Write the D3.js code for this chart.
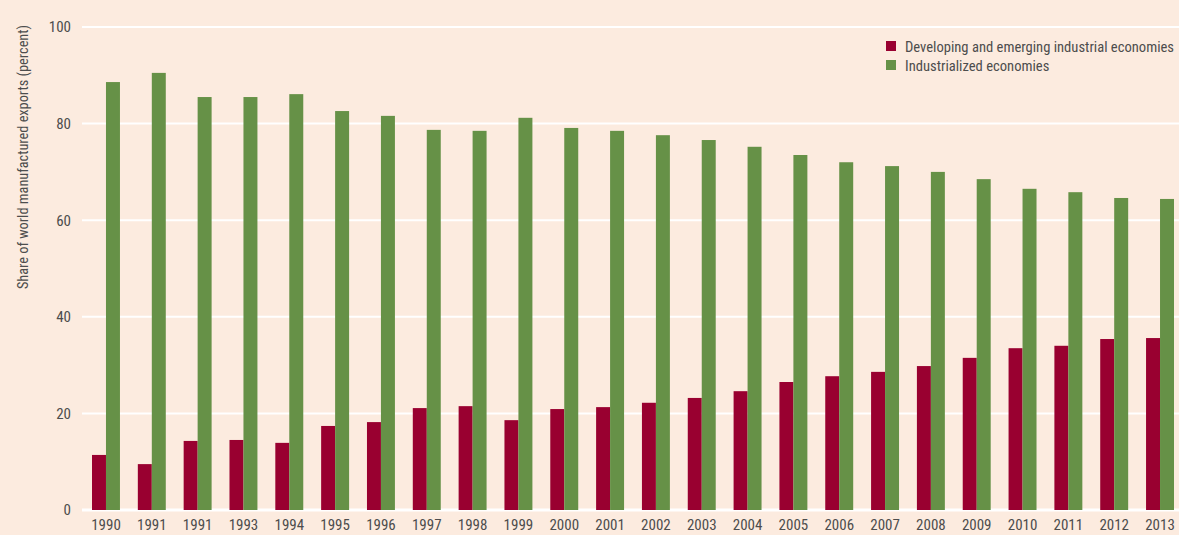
<!DOCTYPE html>
<html>
<head>
<meta charset="utf-8">
<script src="https://cdn.jsdelivr.net/npm/d3@7"></script>
<style>
  html, body { margin: 0; padding: 0; background: #fcebdf; }
  svg { display: block; }
  text { font-family: "Liberation Sans Narrow", "Roboto Condensed", "DejaVu Sans Condensed", sans-serif; }
</style>
</head>
<body>
<svg id="chart" width="1179" height="535"></svg>
<script>
const years = ["1990","1991","1991","1993","1994","1995","1996","1997","1998","1999","2000","2001","2002","2003","2004","2005","2006","2007","2008","2009","2010","2011","2012","2013"];
const developing = [11.4, 9.5, 14.3, 14.5, 13.9, 17.4, 18.2, 21.1, 21.5, 18.6, 20.9, 21.3, 22.2, 23.2, 24.6, 26.5, 27.7, 28.6, 29.8, 31.5, 33.5, 34.0, 35.4, 35.6];
const industrialized = [88.6, 90.5, 85.5, 85.5, 86.1, 82.6, 81.6, 78.7, 78.5, 81.2, 79.1, 78.5, 77.6, 76.6, 75.2, 73.5, 72.0, 71.2, 70.0, 68.5, 66.5, 65.8, 64.6, 64.4];
const seriesNames = ["Developing and emerging industrial economies", "Industrialized economies"];
const yTicks = [0, 20, 40, 60, 80, 100];
const yTitle = "Share of world manufactured exports (percent)";

const colors = ["#990030", "#669147"];
const W = 1179, H = 535;
const svg = d3.select("#chart");
svg.append("rect").attr("width", W).attr("height", H).attr("fill", "#fcebdf");

const idx = d3.range(years.length);
const x = d3.scaleBand().domain(idx).range([92, 1174]).paddingInner(0.39).paddingOuter(0);
const x1 = d3.scaleBand().domain([0, 1]).range([0, x.bandwidth()]);
const y = d3.scaleLinear().domain([0, 100]).range([510, 27]);

// gridlines
svg.append("g").selectAll("line").data(yTicks).join("line")
  .attr("x1", 82).attr("x2", W)
  .attr("y1", d => y(d)).attr("y2", d => y(d))
  .attr("stroke", "#ffffff")
  .attr("stroke-width", d => d === 0 ? 3 : 2);

// y tick labels
const yAxis = d3.axisLeft(y).tickValues(yTicks).tickSize(0).tickPadding(0);
const ya = svg.append("g").attr("transform", "translate(71,0)").call(yAxis);
ya.select(".domain").remove();
ya.selectAll("text").attr("fill", "#4d4d4d").style("font-size", "15px")
  .style("font-family", '"Liberation Sans Narrow", "Roboto Condensed", sans-serif');

// bars
const groups = svg.append("g").selectAll("g").data(idx).join("g")
  .attr("transform", i => `translate(${x(i)},0)`);
groups.append("rect")
  .attr("x", x1(0)).attr("width", x1.bandwidth())
  .attr("y", i => y(developing[i])).attr("height", i => y(0) - y(developing[i]))
  .attr("fill", colors[0]);
groups.append("rect")
  .attr("x", x1(1)).attr("width", x1.bandwidth())
  .attr("y", i => y(industrialized[i])).attr("height", i => y(0) - y(industrialized[i]))
  .attr("fill", colors[1]);

// x labels
const xAxis = d3.axisBottom(x).tickFormat(i => years[i]).tickSize(0).tickPadding(0);
const xa = svg.append("g").attr("transform", "translate(0,519)").call(xAxis);
xa.select(".domain").remove();
xa.selectAll("text").attr("fill", "#4d4d4d").style("font-size", "15px")
  .style("font-family", '"Liberation Sans Narrow", "Roboto Condensed", sans-serif');

// y title
svg.append("text")
  .attr("transform", "translate(28,157) rotate(-90)")
  .attr("text-anchor", "middle")
  .attr("fill", "#4d4d4d")
  .style("font-size", "14.3px")
  .text(yTitle);

// legend
const leg = svg.append("g").attr("transform", "translate(886,41)");
seriesNames.forEach((name, i) => {
  const g = leg.append("g").attr("transform", `translate(0,${i * 19})`);
  g.append("rect").attr("width", 10).attr("height", 10).attr("fill", colors[i]);
  g.append("text").attr("x", 19).attr("y", 10.5).attr("fill", "#4d4d4d")
    .style("font-size", "14.6px").text(name);
});
</script>
</body>
</html>
